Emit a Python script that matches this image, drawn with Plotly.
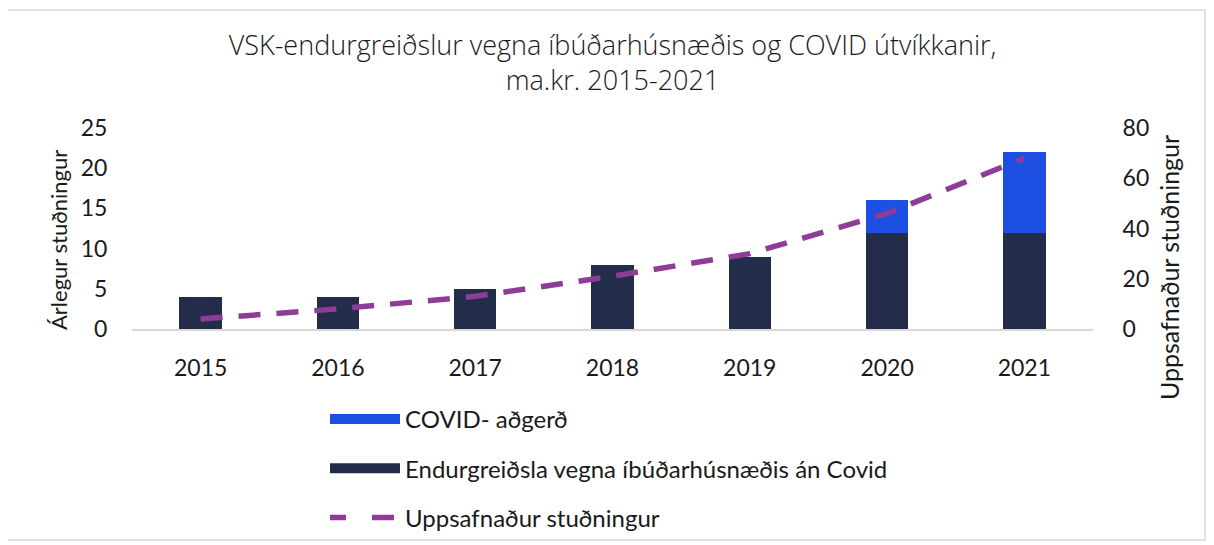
import plotly.graph_objects as go

years = ["2015", "2016", "2017", "2018", "2019", "2020", "2021"]
base_vals = [4, 4, 5, 8, 9, 12, 12]
covid_vals = [0, 0, 0, 0, 0, 4, 10]
cum_vals = [4, 8, 13, 21, 30, 46, 68]

name_covid = "COVID- aðgerð"
name_base = "Endurgreiðsla vegna íbúðarhúsnæðis án Covid"
name_cum = "Uppsafnaður stuðningur"
title_left = "Árlegur stuðningur"
title_right = "Uppsafnaður stuðningur"
chart_title = "VSK-endurgreiðslur vegna íbúðarhúsnæðis og COVID útvíkkanir,<br>ma.kr. 2015-2021"

c_dark = "#232d4b"
c_blue = "#1d4fe3"
c_purple = "#8e3d96"
c_text = "#1a1a1a"
font_fam = "Lato, 'Open Sans', sans-serif"

# the page body adds an 8px offset; work in screen pixels and convert
OFF = 8
W, H = 1214 - OFF, 545 - OFF
L = 132 - OFF
T = 128 - OFF
R = W - (1093 - OFF)
B = H - (329 - OFF)
pw, ph = W - L - R, H - T - B


def px_x(x):  # screen px -> paper
    return (x - OFF - L) / pw


def px_y(y):
    return (H - B - (y - OFF)) / ph


def cx(x):  # screen px -> container
    return (x - OFF) / W


def cy(y):
    return 1 - (y - OFF) / H


fig = go.Figure()
fig.add_trace(go.Bar(x=years, y=base_vals, marker=dict(color=c_dark, line=dict(width=0)),
                     name=name_base, showlegend=False, width=0.31))
fig.add_trace(go.Bar(x=years, y=covid_vals, marker=dict(color=c_blue, line=dict(width=0)),
                     name=name_covid, showlegend=False, width=0.31))
fig.add_trace(go.Scatter(x=years, y=cum_vals, yaxis="y2", mode="lines", name=name_cum,
                         line=dict(color=c_purple, width=5.5, dash="22px,16px"),
                         showlegend=False))
# legend proxies
fig.add_trace(go.Scatter(x=[None], y=[None], mode="lines", name=name_covid,
                         line=dict(color=c_blue, width=15), legendgroup="a", legendrank=1))
fig.add_trace(go.Scatter(x=[None], y=[None], mode="lines", name=name_base,
                         line=dict(color=c_dark, width=15), legendgroup="b", legendrank=2))
fig.add_trace(go.Scatter(x=[None], y=[None], mode="lines", name=name_cum,
                         line=dict(color=c_purple, width=5.5, dash="16px,26px,22px,40px"),
                         legendgroup="c", legendrank=3))

fig.update_layout(
    width=W, height=H,
    margin=dict(l=L, r=R, t=T, b=B, autoexpand=False),
    paper_bgcolor="white", plot_bgcolor="white",
    barmode="stack",
    font=dict(family=font_fam, size=23, color=c_text),
    title=dict(text=chart_title,
               x=0.5, xref="paper", xanchor="center", y=cy(55), yref="container",
               yanchor="top", font=dict(size=27, color=c_text, family="'Open Sans', Lato, sans-serif",
                                        weight=300), automargin=False),
    xaxis=dict(showline=True, linecolor="#d9d9d9", linewidth=2, showgrid=False,
               ticks="outside", ticklen=17, tickcolor="rgba(0,0,0,0)", automargin=False),
    yaxis=dict(range=[0, 25], dtick=5, showgrid=False, zeroline=False, showline=False,
               ticks="outside", ticklen=19, tickcolor="rgba(0,0,0,0)", automargin=False),
    yaxis2=dict(range=[0, 80], dtick=20, overlaying="y", side="right", showgrid=False,
                zeroline=False, showline=False, automargin=False,
                ticks="outside", ticklen=24, tickcolor="rgba(0,0,0,0)"),
    legend=dict(x=cx(325), xref="container", xanchor="left", y=cy(397), yref="container",
                yanchor="top", traceorder="grouped", tracegroupgap=15, itemwidth=70,
                font=dict(size=24), bgcolor="rgba(0,0,0,0)"),
    annotations=[
        dict(text=title_left, textangle=-90, xref="paper", yref="paper",
             x=px_x(58), y=px_y(240), xanchor="center", yanchor="middle",
             showarrow=False, font=dict(size=22, color=c_text)),
        dict(text=title_right, textangle=-90, xref="paper", yref="paper",
             x=px_x(1169), y=px_y(268), xanchor="center", yanchor="middle",
             showarrow=False, font=dict(size=25, color=c_text)),
    ],
    shapes=[dict(type="rect", xref="paper", yref="paper",
                 x0=px_x(6), x1=px_x(1205), y0=px_y(540), y1=px_y(10),
                 line=dict(color="#d9d9d9", width=1.5), fillcolor="rgba(0,0,0,0)", layer="below")],
)

fig.write_html("out.html")
